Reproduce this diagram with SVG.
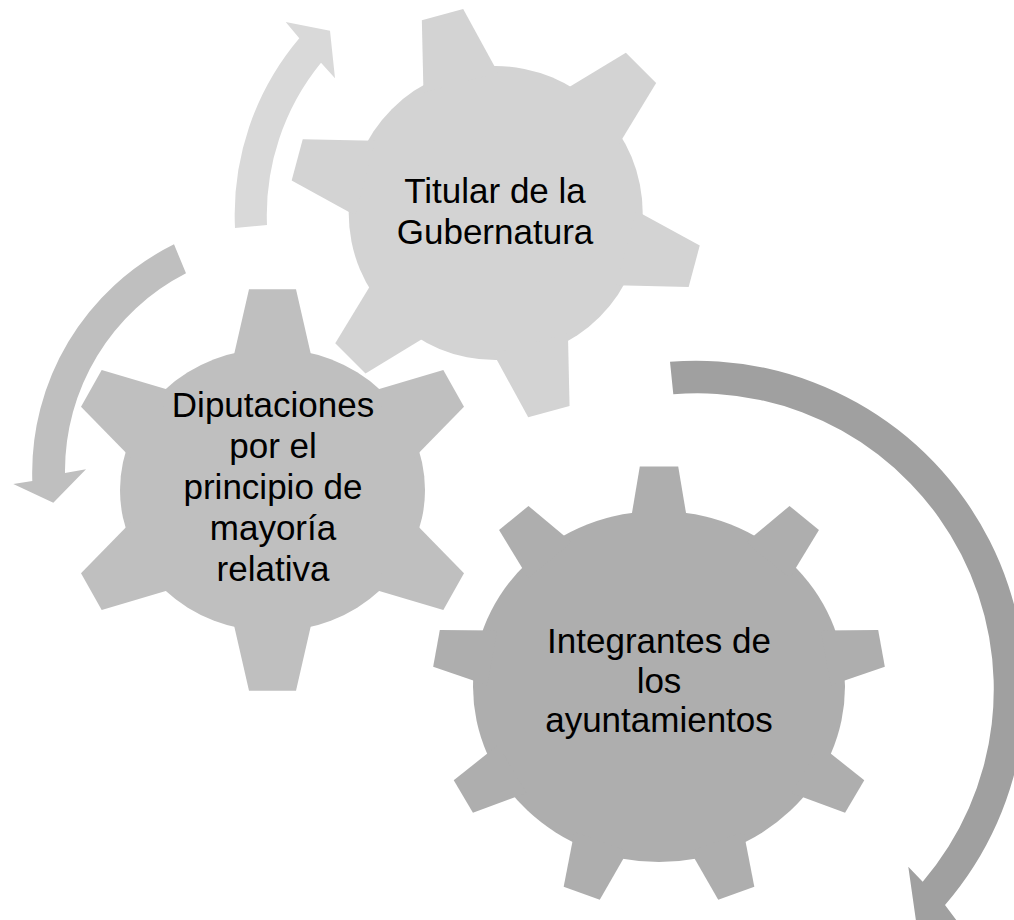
<svg xmlns="http://www.w3.org/2000/svg" xmlns:xlink="http://www.w3.org/1999/xlink" width="1014" height="920" viewBox="0 0 1014 920">
<style>
.bg{fill:#ffffff}
.g1{fill:#d3d3d3}
.g2{fill:#bfbfbf}
.g3{fill:#aeaeae}
.a1{fill:#d9d9d9}
.a2{fill:#bfbfbf}
.a3{fill:#a0a0a0}
.lbl{font-family:"Liberation Sans",Arial,sans-serif;font-size:35px;fill:#000000;text-anchor:middle}
</style>
<defs>
<polygon id="tooth1" points="-21.4,-205.5 21.4,-205.5 38.6,-135 -38.6,-135"/>
<polygon id="tooth3" points="-18.7,-220 18.7,-220 27.7,-165 -27.7,-165"/>
</defs>
<rect class="bg" x="0" y="0" width="1014" height="920"/>
<g id="connectors">
<path id="arrow-top" class="a1" d="M235,228 A273,273 0 0 1 299.3,38.3 L285.7,22 L330,30.7 L335,78.3 L321,62.7 A241,241 0 0 0 267,225 Z"/>
<path id="arrow-left" class="a2" d="M174,244.3 A255,255 0 0 0 32.3,481 L13.3,484 L53.3,502.7 L86,469.3 L65,473 A222,222 0 0 1 186,273.3 Z"/>
<path id="arrow-right" class="a3" d="M670,361.7 A329,329 0 0 1 945,905 L963,929 L918,935 L908.3,866.7 L922.7,881.7 A296,296 0 0 0 673.3,394.3 Z"/>
</g>
<g id="gear-gubernatura" class="g1">
<circle cx="495.7" cy="213.1" r="147"/>
<g transform="translate(495.7 213.1)">
<use xlink:href="#tooth1" href="#tooth1" transform="rotate(-15)"/>
<use xlink:href="#tooth1" href="#tooth1" transform="rotate(45)"/>
<use xlink:href="#tooth1" href="#tooth1" transform="rotate(105)"/>
<use xlink:href="#tooth1" href="#tooth1" transform="rotate(165)"/>
<use xlink:href="#tooth1" href="#tooth1" transform="rotate(225)"/>
<use xlink:href="#tooth1" href="#tooth1" transform="rotate(285)"/>
</g>
<text class="lbl" x="495" y="203">Titular de la</text>
<text class="lbl" x="495" y="243.5">Gubernatura</text>
</g>
<g id="gear-diputaciones" class="g2">
<ellipse cx="272.5" cy="490" rx="152.5" ry="141.5"/>
<polygon points="249,289.3 296,289.3 312.2,360 232.8,360"/>
<polygon points="249,690.7 296,690.7 312.2,620 232.8,620"/>
<polygon points="443.3,370 464,406.7 413.4,458.5 372.5,391"/>
<polygon points="443.3,610 464,573.3 413.4,521.5 372.5,589"/>
<polygon points="101.7,370 81,406.7 131.6,458.5 172.5,391"/>
<polygon points="101.7,610 81,573.3 131.6,521.5 172.5,589"/>
<text class="lbl" x="273" y="417">Diputaciones</text>
<text class="lbl" x="273" y="458">por el</text>
<text class="lbl" x="273" y="499">principio de</text>
<text class="lbl" x="273" y="540">mayoría</text>
<text class="lbl" x="273" y="581">relativa</text>
</g>
<g id="gear-ayuntamientos" class="g3">
<ellipse cx="659" cy="686.5" rx="186" ry="175.5"/>
<g transform="translate(659 686.5) scale(1.027 1)">
<use xlink:href="#tooth3" href="#tooth3" transform="rotate(0)"/>
<use xlink:href="#tooth3" href="#tooth3" transform="rotate(40)"/>
<use xlink:href="#tooth3" href="#tooth3" transform="rotate(80)"/>
<use xlink:href="#tooth3" href="#tooth3" transform="rotate(120)"/>
<use xlink:href="#tooth3" href="#tooth3" transform="rotate(160)"/>
<use xlink:href="#tooth3" href="#tooth3" transform="rotate(200)"/>
<use xlink:href="#tooth3" href="#tooth3" transform="rotate(240)"/>
<use xlink:href="#tooth3" href="#tooth3" transform="rotate(280)"/>
<use xlink:href="#tooth3" href="#tooth3" transform="rotate(320)"/>
</g>
<text class="lbl" x="659" y="653">Integrantes de</text>
<text class="lbl" x="659" y="692.5">los</text>
<text class="lbl" x="659" y="732">ayuntamientos</text>
</g>
</svg>
